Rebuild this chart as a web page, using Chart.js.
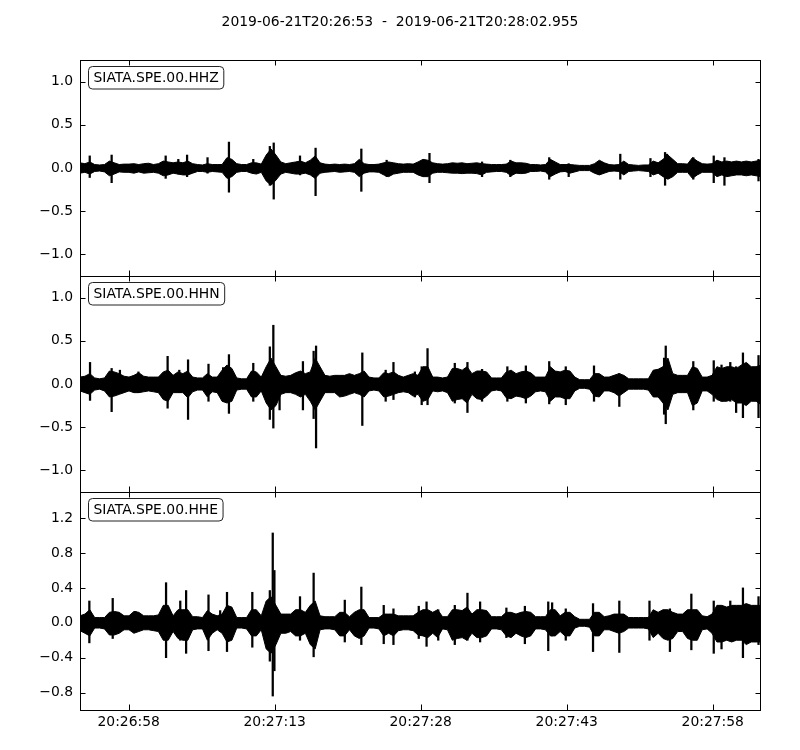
<!DOCTYPE html>
<html>
<head>
<meta charset="utf-8">
<title>SIATA.SPE.00 waveforms</title>
<script src="https://cdn.jsdelivr.net/npm/chart.js@4.4.0/dist/chart.umd.min.js"></script>
<style>
    html, body { margin: 0; padding: 0; background: #fff; }
    #page { position: relative; width: 800px; height: 750px; overflow: hidden; }
    #page canvas { position: absolute; left: 0; }
</style>
</head>
<body>
<div id="page">
    <canvas id="hhz" width="800" height="280" style="top:0px"></canvas>
    <canvas id="hhn" width="800" height="224" style="top:272px"></canvas>
    <canvas id="hhe" width="800" height="262" style="top:488px"></canvas>
</div>
<script>
// trace window
const startTime = '2019-06-21T20:26:53';
const endTime = '2019-06-21T20:28:02.955';
const duration = 69.955; // seconds from start
const timeTicks = [5, 20, 35, 50, 65];
const timeTickLabels = ['20:26:58', '20:27:13', '20:27:28', '20:27:43', '20:27:58'];

const channelNames = ['SIATA.SPE.00.HHZ', 'SIATA.SPE.00.HHN', 'SIATA.SPE.00.HHE'];
const zRange = [-1.25, 1.25];
const nRange = [-1.25, 1.25];
const eRange = [-1.0, 1.5];
const zTicks = [-1.0, -0.5, 0.0, 0.5, 1.0];
const nTicks = [-1.0, -0.5, 0.0, 0.5, 1.0];
const eTicks = [-0.8, -0.4, 0.0, 0.4, 0.8, 1.2];

// envelope of the dense part of each trace, one value per ~0.5 s window (140 windows)
const hhzUpper = [
    0.06, 0.05, 0.07, 0.04, 0.035, 0.04, 0.08, 0.06, 0.04, 0.045,
    0.045, 0.05, 0.04, 0.05, 0.055, 0.04, 0.05, 0.08, 0.07, 0.06,
    0.07, 0.06, 0.08, 0.05, 0.04, 0.035, 0.05, 0.04, 0.04, 0.04,
    0.12, 0.1, 0.05, 0.04, 0.04, 0.06, 0.06, 0.045, 0.15, 0.22,
    0.15, 0.07, 0.05, 0.06, 0.07, 0.08, 0.06, 0.09, 0.14, 0.06,
    0.045, 0.04, 0.045, 0.04, 0.045, 0.04, 0.05, 0.1, 0.05, 0.04,
    0.04, 0.045, 0.06, 0.07, 0.06, 0.05, 0.045, 0.05, 0.045, 0.07,
    0.1, 0.09, 0.06, 0.05, 0.045, 0.05, 0.06, 0.055, 0.06, 0.05,
    0.055, 0.06, 0.05, 0.045, 0.04, 0.04, 0.04, 0.045, 0.08, 0.06,
    0.06, 0.055, 0.04, 0.04, 0.035, 0.04, 0.1, 0.07, 0.04, 0.04,
    0.04, 0.035, 0.03, 0.03, 0.03, 0.05, 0.09, 0.06, 0.04, 0.035,
    0.04, 0.08, 0.04, 0.035, 0.03, 0.035, 0.035, 0.08, 0.06, 0.1,
    0.15, 0.1, 0.05, 0.05, 0.045, 0.12, 0.08, 0.05, 0.045, 0.05,
    0.09, 0.07, 0.08, 0.07, 0.08, 0.07, 0.08, 0.07, 0.08, 0.09
];
const hhzLower = [
    -0.06, -0.05, -0.07, -0.04, -0.035, -0.045, -0.09, -0.07, -0.045, -0.05,
    -0.05, -0.06, -0.045, -0.06, -0.055, -0.05, -0.06, -0.09, -0.08, -0.06,
    -0.07, -0.08, -0.08, -0.06, -0.04, -0.04, -0.05, -0.04, -0.045, -0.05,
    -0.12, -0.1, -0.05, -0.04, -0.04, -0.06, -0.07, -0.05, -0.15, -0.2,
    -0.14, -0.07, -0.05, -0.06, -0.07, -0.07, -0.06, -0.08, -0.12, -0.06,
    -0.05, -0.045, -0.04, -0.05, -0.045, -0.04, -0.05, -0.1, -0.06, -0.045,
    -0.045, -0.05, -0.08, -0.1, -0.07, -0.06, -0.05, -0.05, -0.05, -0.08,
    -0.1, -0.1, -0.06, -0.05, -0.05, -0.055, -0.06, -0.06, -0.065, -0.06,
    -0.06, -0.065, -0.08, -0.05, -0.045, -0.04, -0.04, -0.05, -0.09, -0.06,
    -0.065, -0.06, -0.04, -0.04, -0.035, -0.045, -0.1, -0.07, -0.045, -0.04,
    -0.06, -0.045, -0.03, -0.03, -0.03, -0.06, -0.08, -0.06, -0.04, -0.035,
    -0.04, -0.08, -0.04, -0.035, -0.03, -0.035, -0.04, -0.08, -0.06, -0.1,
    -0.13, -0.1, -0.05, -0.05, -0.05, -0.12, -0.08, -0.05, -0.05, -0.05,
    -0.1, -0.08, -0.1, -0.09, -0.08, -0.08, -0.09, -0.08, -0.09, -0.1
];
// sharp arrivals: [seconds, max, min]
const hhzPeaks = [
    [1.0, 0.14, -0.11], [3.25, 0.15, -0.17], [8.8, 0.14, -0.12], [10.1, 0.1, -0.07],
    [11.0, 0.15, -0.1], [13.1, 0.12, -0.06], [15.3, 0.30, -0.28], [17.8, 0.1, -0.06],
    [19.5, 0.25, -0.2], [19.9, 0.29, -0.36], [22.6, 0.14, -0.08], [24.2, 0.23, -0.32],
    [28.9, 0.22, -0.27], [31.5, 0.09, -0.1], [35.9, 0.17, -0.17], [41.3, 0.07, -0.1],
    [44.2, 0.09, -0.1], [48.2, 0.12, -0.13], [50.2, 0.05, -0.1], [55.5, 0.16, -0.13],
    [58.6, 0.11, -0.1], [60.1, 0.18, -0.2], [60.3, 0.16, -0.12], [63.0, 0.12, -0.13],
    [65.1, 0.14, -0.17], [66.2, 0.12, -0.2], [69.7, 0.1, -0.15]
];

const hhnUpper = [
    0.08, 0.09, 0.12, 0.07, 0.06, 0.07, 0.15, 0.14, 0.12, 0.09,
    0.08, 0.1, 0.13, 0.09, 0.08, 0.08, 0.08, 0.14, 0.16, 0.1,
    0.14, 0.12, 0.15, 0.08, 0.07, 0.07, 0.12, 0.08, 0.08, 0.16,
    0.22, 0.18, 0.07, 0.06, 0.06, 0.15, 0.14, 0.08, 0.2, 0.3,
    0.2, 0.1, 0.09, 0.1, 0.13, 0.15, 0.12, 0.14, 0.3, 0.2,
    0.1, 0.09, 0.1, 0.1, 0.1, 0.12, 0.1, 0.12, 0.15, 0.08,
    0.07, 0.07, 0.13, 0.12, 0.14, 0.1, 0.08, 0.1, 0.12, 0.1,
    0.2, 0.2, 0.08, 0.08, 0.07, 0.08, 0.18, 0.18, 0.16, 0.2,
    0.12, 0.15, 0.15, 0.14, 0.07, 0.07, 0.07, 0.14, 0.16, 0.12,
    0.14, 0.15, 0.13, 0.08, 0.08, 0.08, 0.2, 0.15, 0.14, 0.16,
    0.15, 0.08, 0.05, 0.05, 0.05, 0.12, 0.12, 0.08, 0.08, 0.1,
    0.12, 0.1, 0.06, 0.06, 0.06, 0.06, 0.06, 0.16, 0.17, 0.2,
    0.3, 0.12, 0.1, 0.1, 0.1, 0.2, 0.18, 0.08, 0.08, 0.1,
    0.2, 0.18, 0.2, 0.2, 0.18, 0.22, 0.25, 0.2, 0.2, 0.22
];
const hhnLower = [
    -0.08, -0.1, -0.12, -0.07, -0.06, -0.08, -0.15, -0.14, -0.12, -0.1,
    -0.08, -0.1, -0.1, -0.09, -0.08, -0.09, -0.1, -0.18, -0.2, -0.1,
    -0.1, -0.1, -0.16, -0.09, -0.07, -0.07, -0.15, -0.09, -0.1, -0.2,
    -0.22, -0.2, -0.07, -0.06, -0.06, -0.15, -0.15, -0.08, -0.22, -0.3,
    -0.25, -0.12, -0.1, -0.1, -0.12, -0.15, -0.12, -0.2, -0.3, -0.2,
    -0.1, -0.1, -0.1, -0.15, -0.14, -0.12, -0.1, -0.12, -0.15, -0.08,
    -0.07, -0.08, -0.15, -0.14, -0.12, -0.1, -0.09, -0.1, -0.14, -0.12,
    -0.2, -0.18, -0.08, -0.09, -0.08, -0.1, -0.2, -0.18, -0.17, -0.22,
    -0.12, -0.17, -0.18, -0.14, -0.08, -0.07, -0.08, -0.16, -0.17, -0.14,
    -0.15, -0.17, -0.14, -0.09, -0.08, -0.09, -0.2, -0.15, -0.15, -0.17,
    -0.17, -0.08, -0.05, -0.05, -0.06, -0.14, -0.15, -0.08, -0.08, -0.1,
    -0.14, -0.1, -0.06, -0.06, -0.06, -0.06, -0.07, -0.15, -0.15, -0.22,
    -0.3, -0.12, -0.1, -0.1, -0.1, -0.25, -0.22, -0.08, -0.08, -0.12,
    -0.18, -0.2, -0.2, -0.18, -0.22, -0.22, -0.25, -0.2, -0.2, -0.24
];
const hhnPeaks = [
    [1.03, 0.25, -0.19], [3.25, 0.18, -0.32], [4.1, 0.16, -0.1], [6.0, 0.14, -0.1],
    [9.0, 0.32, -0.28], [10.2, 0.16, -0.1], [11.1, 0.28, -0.41], [13.2, 0.23, -0.2],
    [14.7, 0.19, -0.2], [15.3, 0.34, -0.34], [17.8, 0.24, -0.2], [19.5, 0.43, -0.41],
    [19.86, 0.68, -0.51], [20.5, 0.1, -0.3], [22.9, 0.26, -0.3], [24.0, 0.38, -0.4],
    [24.25, 0.44, -0.74], [29.0, 0.36, -0.48], [31.4, 0.16, -0.2], [32.2, 0.25, -0.18],
    [34.4, 0.14, -0.15], [35.1, 0.2, -0.24], [35.7, 0.41, -0.24], [38.5, 0.24, -0.22],
    [39.8, 0.25, -0.33], [41.3, 0.17, -0.2], [43.9, 0.2, -0.2], [45.8, 0.21, -0.22],
    [48.2, 0.26, -0.23], [49.9, 0.2, -0.24], [52.8, 0.21, -0.2], [55.4, 0.12, -0.26],
    [60.0, 0.3, -0.35], [60.17, 0.44, -0.46], [63.0, 0.26, -0.3], [65.1, 0.27, -0.2],
    [65.9, 0.22, -0.2], [66.8, 0.25, -0.2], [67.4, 0.2, -0.33], [68.1, 0.36, -0.39],
    [69.7, 0.33, -0.39]
];

const hheUpper = [
    0.08, 0.1, 0.15, 0.06, 0.06, 0.06, 0.12, 0.13, 0.12, 0.08,
    0.08, 0.13, 0.12, 0.08, 0.08, 0.08, 0.09, 0.2, 0.2, 0.08,
    0.15, 0.15, 0.15, 0.07, 0.07, 0.06, 0.14, 0.1, 0.08, 0.1,
    0.2, 0.18, 0.06, 0.06, 0.06, 0.15, 0.15, 0.08, 0.25, 0.3,
    0.2, 0.1, 0.1, 0.1, 0.15, 0.15, 0.12, 0.2, 0.25, 0.08,
    0.07, 0.07, 0.07, 0.12, 0.12, 0.07, 0.12, 0.15, 0.15, 0.06,
    0.06, 0.06, 0.1, 0.1, 0.1, 0.08, 0.08, 0.08, 0.08, 0.12,
    0.15, 0.15, 0.12, 0.15, 0.07, 0.07, 0.15, 0.15, 0.14, 0.18,
    0.1, 0.15, 0.15, 0.14, 0.07, 0.07, 0.07, 0.12, 0.12, 0.1,
    0.12, 0.13, 0.12, 0.07, 0.07, 0.07, 0.15, 0.15, 0.08, 0.12,
    0.12, 0.07, 0.04, 0.04, 0.04, 0.12, 0.12, 0.07, 0.08, 0.1,
    0.1, 0.1, 0.06, 0.06, 0.06, 0.06, 0.06, 0.15, 0.12, 0.15,
    0.15, 0.12, 0.1, 0.1, 0.15, 0.15, 0.15, 0.08, 0.07, 0.1,
    0.2, 0.2, 0.18, 0.2, 0.2, 0.2, 0.22, 0.2, 0.2, 0.2
];
const hheLower = [
    -0.09, -0.12, -0.15, -0.06, -0.06, -0.07, -0.14, -0.14, -0.12, -0.08,
    -0.08, -0.12, -0.1, -0.08, -0.08, -0.09, -0.1, -0.2, -0.2, -0.1,
    -0.18, -0.2, -0.2, -0.08, -0.07, -0.07, -0.2, -0.12, -0.08, -0.12,
    -0.22, -0.2, -0.06, -0.06, -0.07, -0.15, -0.15, -0.08, -0.3, -0.35,
    -0.25, -0.12, -0.12, -0.1, -0.15, -0.15, -0.12, -0.25, -0.3, -0.08,
    -0.07, -0.07, -0.08, -0.15, -0.15, -0.08, -0.15, -0.18, -0.15, -0.06,
    -0.06, -0.07, -0.15, -0.12, -0.15, -0.09, -0.08, -0.08, -0.09, -0.14,
    -0.15, -0.17, -0.12, -0.17, -0.07, -0.08, -0.2, -0.18, -0.17, -0.2,
    -0.12, -0.17, -0.17, -0.15, -0.07, -0.07, -0.08, -0.15, -0.17, -0.12,
    -0.15, -0.17, -0.15, -0.07, -0.07, -0.08, -0.15, -0.15, -0.1, -0.15,
    -0.15, -0.06, -0.04, -0.04, -0.05, -0.15, -0.15, -0.08, -0.08, -0.1,
    -0.12, -0.1, -0.06, -0.06, -0.06, -0.06, -0.07, -0.17, -0.12, -0.18,
    -0.2, -0.18, -0.1, -0.1, -0.18, -0.2, -0.2, -0.08, -0.07, -0.12,
    -0.22, -0.22, -0.2, -0.22, -0.2, -0.2, -0.25, -0.22, -0.22, -0.22
];
const hhePeaks = [
    [0.96, 0.25, -0.23], [3.36, 0.28, -0.18], [5.7, 0.13, -0.1], [8.84, 0.46, -0.40],
    [10.3, 0.25, -0.2], [10.9, 0.37, -0.35], [13.2, 0.32, -0.32], [14.4, 0.14, -0.1],
    [15.1, 0.35, -0.33], [17.7, 0.35, -0.28], [19.5, 0.37, -0.44], [19.8, 1.03, -0.84],
    [19.97, 0.6, -0.55], [22.6, 0.3, -0.2], [24.0, 0.57, -0.39], [27.2, 0.26, -0.22],
    [28.9, 0.41, -0.25], [31.2, 0.2, -0.24], [32.2, 0.16, -0.25], [34.8, 0.19, -0.18],
    [35.6, 0.24, -0.27], [36.8, 0.15, -0.2], [38.5, 0.2, -0.25], [39.8, 0.34, -0.2],
    [41.1, 0.24, -0.22], [43.8, 0.17, -0.17], [45.7, 0.19, -0.24], [48.1, 0.24, -0.32],
    [48.5, 0.23, -0.15], [49.9, 0.16, -0.2], [52.7, 0.22, -0.33], [55.4, 0.25, -0.34],
    [58.5, 0.25, -0.2], [60.6, 0.16, -0.33], [62.8, 0.33, -0.31], [65.1, 0.25, -0.35],
    [65.9, 0.18, -0.3], [66.8, 0.25, -0.2], [68.1, 0.4, -0.40], [69.7, 0.3, -0.25]
];

const FONT = 'DejaVu Sans';
const FONT_SIZE = 13.9;

// window times spread over the whole trace
const windowTime = i => i * duration / (hhzUpper.length - 1);
const toPoints = arr => arr.map((v, i) => ({ x: windowTime(i), y: v }));
const minus = s => s.replace('-', '\u2212');

// inward ticks, frame and station label box, like the classic matplotlib look
const framePlugin = {
    id: 'frame',
    afterDatasetsDraw(chart, args, opts) {
        const { ctx, chartArea: a, scales } = chart;
        const len = 5.5;
        ctx.save();
        ctx.strokeStyle = '#000';
        ctx.lineWidth = 1;
        ctx.beginPath();
        opts.yTicks.forEach(v => {
            const y = Math.round(scales.y.getPixelForValue(v)) + 0.5;
            ctx.moveTo(a.left, y); ctx.lineTo(a.left + len, y);
            ctx.moveTo(a.right, y); ctx.lineTo(a.right - len, y);
        });
        timeTicks.forEach(v => {
            const x = Math.round(scales.x.getPixelForValue(v)) + 0.5;
            ctx.moveTo(x, a.top); ctx.lineTo(x, a.top + len);
            ctx.moveTo(x, a.bottom); ctx.lineTo(x, a.bottom - len);
        });
        ctx.stroke();
        ctx.strokeRect(a.left + 0.5, a.top + 0.5, a.right - a.left - 1, a.bottom - a.top);

        // station label
        ctx.font = FONT_SIZE + 'px "' + FONT + '"';
        const w = ctx.measureText(opts.label).width + 10;
        const bx = a.left + 8.5, by = a.top + 6.5, bh = 22.5;
        ctx.beginPath();
        ctx.roundRect(bx, by, w, bh, 4);
        ctx.fillStyle = '#fff';
        ctx.fill();
        ctx.strokeStyle = '#222';
        ctx.stroke();
        ctx.fillStyle = '#000';
        ctx.textAlign = 'center';
        ctx.textBaseline = 'middle';
        ctx.fillText(opts.label, bx + w / 2, by + bh / 2 + 0.5);
        ctx.restore();
    }
};

function drawPanel(id, label, upper, lower, peaks, range, ticks, cfg) {
    return new Chart(document.getElementById(id), {
        type: 'line',
        data: {
            datasets: [
                {
                    data: toPoints(upper),
                    borderColor: '#000',
                    backgroundColor: '#000',
                    borderWidth: 1,
                    pointRadius: 0,
                    tension: 0,
                    fill: '+1'
                },
                {
                    data: toPoints(lower),
                    borderColor: '#000',
                    borderWidth: 1,
                    pointRadius: 0,
                    tension: 0,
                    fill: false
                },
                {
                    type: 'bar',
                    data: peaks.map(p => ({ x: p[0], y: [p[2], p[1]] })),
                    backgroundColor: '#000',
                    borderWidth: 0,
                    barThickness: 1.6
                }
            ]
        },
        options: {
            responsive: false,
            animation: false,
            events: [],
            // left padding + 41px axis keeps the plot at x=80 and the title centred on the page
            layout: { padding: { top: cfg.top, right: 39, bottom: cfg.bottom, left: 39 } },
            plugins: {
                legend: { display: false },
                tooltip: { enabled: false },
                title: cfg.title ? {
                    display: true,
                    text: cfg.title,
                    color: '#000',
                    font: { family: FONT, size: FONT_SIZE, weight: 'normal' },
                    padding: { top: 14, bottom: 29.32 }
                } : { display: false },
                frame: { label: label, yTicks: ticks }
            },
            scales: {
                x: {
                    type: 'linear',
                    min: 0,
                    max: duration,
                    offset: false,
                    display: cfg.showX,
                    grid: { display: false, drawTicks: false },
                    border: { display: false },
                    afterBuildTicks: s => { s.ticks = timeTicks.map(v => ({ value: v })); },
                    afterFit: s => {
                        s.height = cfg.showX ? 40 : 0;
                        s.paddingLeft = 0;
                        s.paddingRight = 0;
                    },
                    ticks: {
                        autoSkip: false,
                        maxRotation: 0,
                        padding: 4,
                        color: '#000',
                        font: { family: FONT, size: FONT_SIZE },
                        callback: v => timeTickLabels[timeTicks.indexOf(v)]
                    }
                },
                y: {
                    min: range[0],
                    max: range[1],
                    grid: { display: false, drawTicks: false },
                    border: { display: false },
                    afterBuildTicks: s => { s.ticks = ticks.map(v => ({ value: v })); },
                    afterFit: s => {
                        s.width = 41;
                        s.paddingTop = 0;
                        s.paddingBottom = 0;
                    },
                    ticks: {
                        autoSkip: false,
                        padding: 7,
                        color: '#000',
                        font: { family: FONT, size: FONT_SIZE },
                        callback: v => minus(v.toFixed(1))
                    }
                }
            }
        },
        plugins: [framePlugin]
    });
}

drawPanel('hhz', channelNames[0], hhzUpper, hhzLower, hhzPeaks, zRange, zTicks,
    { top: 0, bottom: 4, showX: false, title: startTime + '  -  ' + endTime });
drawPanel('hhn', channelNames[1], hhnUpper, hhnLower, hhnPeaks, nRange, nTicks,
    { top: 4, bottom: 4, showX: false });
drawPanel('hhe', channelNames[2], hheUpper, hheLower, hhePeaks, eRange, eTicks,
    { top: 4, bottom: 0, showX: true });
</script>
</body>
</html>
